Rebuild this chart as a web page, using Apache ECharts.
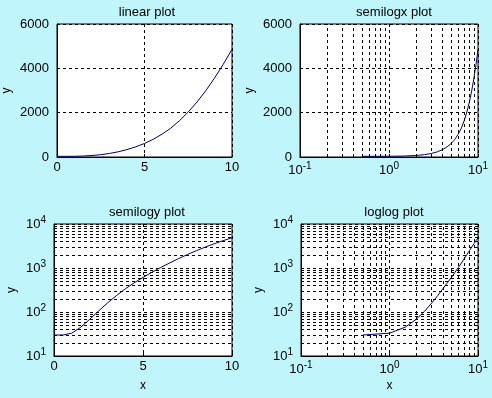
<!DOCTYPE html>
<html>
<head>
<meta charset="utf-8">
<script src="https://cdn.jsdelivr.net/npm/echarts@6/dist/echarts.min.js"></script>
<style>
  html, body { margin: 0; padding: 0; background: #bff5fb; }
  #main { width: 492px; height: 398px; }
</style>
</head>
<body>
<div id="main"></div>
<script>
// values (x step 0.5)
var xs = [0, 0.5, 1, 1.5, 2, 2.5, 3, 3.5, 4, 4.5, 5, 5.5, 6, 6.5, 7, 7.5, 8, 8.5, 9, 9.5, 10];
var ys = [30, 30, 33, 45, 68, 105, 160, 235, 335, 460, 610, 800, 1030, 1300, 1640, 2030, 2480, 2990, 3560, 4180, 4860];
var titles = ['linear plot', 'semilogx plot', 'semilogy plot', 'loglog plot'];
// minor grid lines on log axes
var xMinor = [0.2, 0.3, 0.4, 0.5, 0.6, 0.7, 0.8, 0.9, 2, 3, 4, 5, 6, 7, 8, 9];
var yMinor = [20, 30, 40, 50, 60, 70, 80, 90, 200, 300, 400, 500, 600, 700, 800, 900, 2000, 3000, 4000, 5000, 6000, 7000, 8000, 9000];

var font = 'Liberation Sans, Arial, sans-serif';
var dash = [3, 3];

var allPts = xs.map(function (x, i) { return [x, ys[i]]; });
var posPts = allPts.filter(function (p) { return p[0] > 0; });

var grids = [
  {left: 54, top: 24, width: 178, height: 133},
  {left: 300, top: 24, width: 178, height: 133},
  {left: 54, top: 224, width: 178, height: 132},
  {left: 301, top: 224, width: 177, height: 132}
];
grids.forEach(function (g) {
  g.show = true; g.backgroundColor = '#fff'; g.borderColor = '#000'; g.borderWidth = 1;
});

function logLabel(v) {
  var e = Math.round(Math.log10(v));
  return '10{s|' + e + '}';
}
function plainLabel(v) { return String(v); }
var richSup = {s: {fontSize: 10, fontFamily: font, color: '#000', padding: [0, 0, 8, 0]}};

function baseAxis(i) {
  return {
    gridIndex: i,
    axisLine: {show: true, onZero: false, lineStyle: {color: '#000'}},
    axisTick: {show: true, inside: true, length: 3, lineStyle: {color: '#000'}},
    axisLabel: {color: '#000', fontSize: 13, fontFamily: font, rich: richSup, formatter: plainLabel},
    splitLine: {show: true, lineStyle: {color: '#000', type: dash, width: 1}},
    nameTextStyle: {color: '#000', fontSize: 12, fontFamily: font}
  };
}

function linX(i) {
  var a = baseAxis(i);
  a.type = 'value'; a.min = 0; a.max = 10; a.interval = 5;
  a.axisLabel.margin = 4;
  return a;
}
function logX(i) {
  var a = baseAxis(i);
  a.type = 'log'; a.logBase = 10; a.min = 0.1; a.max = 10;
  a.axisLabel.formatter = logLabel; a.axisLabel.margin = 4;
  return a;
}
function linY(i) {
  var a = baseAxis(i);
  a.type = 'value'; a.min = 0; a.max = 6000; a.interval = 2000;
  a.name = 'y'; a.nameLocation = 'middle'; a.nameGap = 44; a.nameRotate = 90;
  return a;
}
function logY(i) {
  var a = baseAxis(i);
  a.type = 'log'; a.logBase = 10; a.min = 10; a.max = 10000;
  a.axisLabel.formatter = logLabel;
  a.name = 'y'; a.nameLocation = 'middle'; a.nameGap = 36; a.nameRotate = 90;
  return a;
}

var xAxes = [linX(0), logX(1), linX(2), logX(3)];
var yAxes = [linY(0), linY(1), logY(2), logY(3)];
[2, 3].forEach(function (i) {
  xAxes[i].name = 'x'; xAxes[i].nameLocation = 'middle'; xAxes[i].nameGap = 24;
});

function minorLines(xv, yv) {
  var d = [];
  xv.forEach(function (v) { d.push({xAxis: v}); });
  yv.forEach(function (v) { d.push({yAxis: v}); });
  return {
    silent: true, symbol: 'none', label: {show: false},
    lineStyle: {color: '#000', type: dash, width: 1}, emphasis: {disabled: true},
    animation: false, data: d
  };
}

var series = [
  {data: allPts, marks: null},
  {data: posPts, marks: minorLines(xMinor, [])},
  {data: allPts, marks: minorLines([], yMinor)},
  {data: posPts, marks: minorLines(xMinor, yMinor)}
].map(function (s, i) {
  var o = {
    type: 'line', xAxisIndex: i, yAxisIndex: i, data: s.data,
    showSymbol: false, smooth: false,
    lineStyle: {color: '#000070', width: 1}, z: 3
  };
  if (s.marks) o.markLine = s.marks;
  return o;
});

var titleCenters = [[142, 1], [389, 1], [142, 201], [389, 201]];
var titleOpts = titles.map(function (t, i) {
  return {
    text: t, left: titleCenters[i][0], top: titleCenters[i][1], textAlign: 'center',
    textStyle: {color: '#000', fontSize: 13, fontWeight: 'normal', fontFamily: font}
  };
});

var chart = echarts.init(document.getElementById('main'));
chart.setOption({
  backgroundColor: '#bff5fb',
  animation: false,
  title: titleOpts,
  grid: grids,
  xAxis: xAxes,
  yAxis: yAxes,
  series: series
});
</script>
</body>
</html>
